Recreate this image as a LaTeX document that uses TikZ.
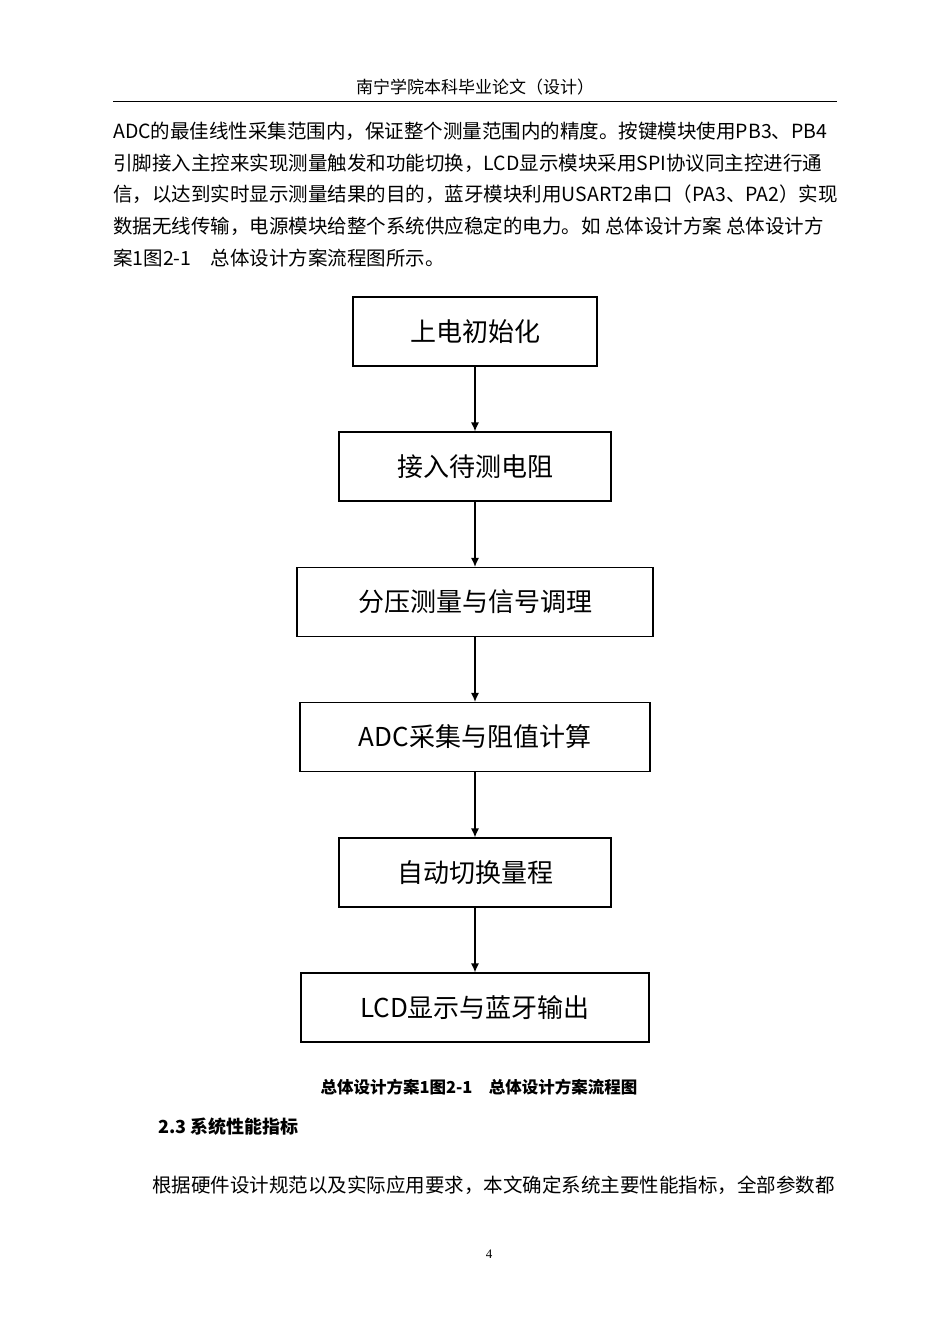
\documentclass[tikz,border=0pt]{standalone}
\usepackage{fontspec}
\setmainfont{Liberation Serif}
\newfontfamily\cjk{Noto Sans CJK SC}
\usetikzlibrary{positioning,arrows.meta}
\begin{document}
\begin{tikzpicture}[x=1pt,y=-1pt,
box_style/.style={draw=black,line width=1.2pt,minimum height=69pt,font=\cjk\fontsize{26}{28}\selectfont},
edge_style/.style={draw=black,line width=1.2pt,-{Latex[length=9pt,width=8pt]}},
line_style/.style={anchor=west,inner sep=0pt,font=\cjk\fontsize{19.5}{21}\selectfont}]
\useasboundingbox[fill=white] (0,0) rectangle (950,1344);
% header
\node[font=\cjk\fontsize{17}{20}\selectfont] (head) at (475,87) {南宁学院本科毕业论文（设计）};
\coordinate (hl) at (113,101);
\coordinate (hr) at (837,101);
\draw[line width=1pt] (hl) -- (hr);
% body text
\node[line_style] (t1) at (113,131) {ADC的最佳线性采集范围内，保证整个测量范围内的精度。按键模块使用PB3、PB4};
\node[line_style] (t2) at (113,163) {引脚接入主控来实现测量触发和功能切换，LCD显示模块采用SPI协议同主控进行通};
\node[line_style] (t3) at (113,194) {信，以达到实时显示测量结果的目的，蓝牙模块利用USART2串口（PA3、PA2）实现};
\node[line_style] (t4) at (113,226) {数据无线传输，电源模块给整个系统供应稳定的电力。如\ 总体设计方案\ 总体设计方};
\node[line_style] (t5) at (113,258) {案1图2-1\quad 总体设计方案流程图所示。};
% flow chart
\node[box_style,minimum width=244pt] (b1) at (475,331.5) {上电初始化};
\node[box_style,minimum width=272pt] (b2) at (475,466.5) {接入待测电阻};
\node[box_style,minimum width=356pt] (b3) at (475,602) {分压测量与信号调理};
\node[box_style,minimum width=350pt] (b4) at (475,737) {ADC采集与阻值计算};
\node[box_style,minimum width=272pt] (b5) at (475,872.5) {自动切换量程};
\node[box_style,minimum width=348pt] (b6) at (475,1007.5) {LCD显示与蓝牙输出};
\foreach \a/\b in {b1/b2,b2/b3,b3/b4,b4/b5,b5/b6}
  \draw[edge_style] (\a) -- (\b);
% caption and following text
\node[font=\cjk\bfseries\fontsize{16.5}{18}\selectfont] (cap) at (479,1087) {总体设计方案1图2-1\quad 总体设计方案流程图};
\node[line_style,font=\cjk\bfseries\fontsize{18}{20}\selectfont] (sec) at (158,1127) {2.3 系统性能指标};
\node[line_style] (t6) at (152,1185) {根据硬件设计规范以及实际应用要求，本文确定系统主要性能指标，全部参数都};
\node[font=\fontsize{13}{15}\selectfont] (page) at (489,1254) {4};
\end{tikzpicture}
\end{document}
